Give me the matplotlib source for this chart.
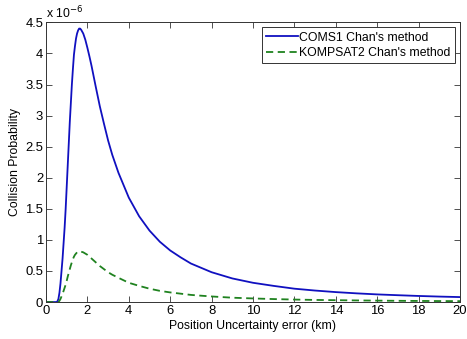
import matplotlib
matplotlib.use("Agg")
import matplotlib.pyplot as plt
from matplotlib.ticker import FuncFormatter

plt.rcParams['font.family'] = ['Liberation Sans', 'DejaVu Sans']

# Position uncertainty (km) and collision probability (x 1e-6)
x_km = [0, 0.3, 0.5, 0.55, 0.6, 0.65, 0.7, 0.75, 0.8, 0.85, 0.9, 0.95, 1.0,
        1.05, 1.1, 1.15, 1.2, 1.25, 1.3, 1.35, 1.4, 1.45, 1.5, 1.55, 1.6,
        1.65, 1.7, 1.8, 1.9, 2.0, 2.1, 2.2, 2.4, 2.6, 2.8, 3.0, 3.2, 3.5,
        4.0, 4.5, 5.0, 5.5, 6.0, 6.5, 7.0, 7.5, 8.0, 9.0, 10, 11, 12, 13,
        14, 15, 16, 17, 18, 19, 20]

p_coms1 = [0, 0, 0.0, 0.01, 0.05, 0.15, 0.3, 0.5, 0.7, 0.95, 1.2, 1.5, 1.85,
           2.2, 2.55, 2.9, 3.2, 3.5, 3.75, 3.98, 4.12, 4.24, 4.32, 4.37, 4.4,
           4.4, 4.38, 4.32, 4.22, 4.09, 3.95, 3.8, 3.47, 3.15, 2.87, 2.6, 2.37, 2.08,
           1.68, 1.38, 1.15, 0.97, 0.83, 0.72, 0.62, 0.55, 0.48, 0.38, 0.31, 0.26, 0.215, 0.185,
           0.16, 0.14, 0.123, 0.11, 0.098, 0.088, 0.08]

p_kompsat2 = [0, 0, 0, 0, 0.0, 0.02, 0.05, 0.09, 0.13, 0.18, 0.23, 0.28, 0.34,
              0.41, 0.47, 0.53, 0.59, 0.64, 0.69, 0.73, 0.76, 0.78, 0.80, 0.81, 0.815,
              0.815, 0.81, 0.80, 0.78, 0.76, 0.73, 0.70, 0.64, 0.58, 0.53, 0.48, 0.44, 0.39,
              0.31, 0.26, 0.215, 0.18, 0.155, 0.135, 0.115, 0.102, 0.09, 0.07, 0.058, 0.048, 0.04, 0.034,
              0.03, 0.026, 0.023, 0.02, 0.018, 0.016, 0.015]

x_ticks = list(range(0, 21, 2))
y_ticks = [0, 0.5, 1, 1.5, 2, 2.5, 3, 3.5, 4, 4.5]

fs = 8.8

fig = plt.figure(figsize=(4.67, 3.39), dpi=100)
ax = fig.add_axes([0.0985, 0.109, 0.8865, 0.825])

ax.plot(x_km, p_coms1, color='#1010c0', lw=1.3, label="COMS1 Chan's method")
ax.plot(x_km, p_kompsat2, color='#1f821f', lw=1.3, ls=(0, (4, 2.5)),
        label="KOMPSAT2 Chan's method")

ax.set_xlim(0, 20)
ax.set_ylim(0, 4.5)
ax.set_xticks(x_ticks)
ax.set_yticks(y_ticks)
ax.yaxis.set_major_formatter(FuncFormatter(lambda v, p: '%g' % v))
ax.tick_params(direction='in', top=True, right=True, labelsize=fs + 0.6,
               length=4, width=0.6, colors='#333333', labelcolor='black', pad=2)
for s in ax.spines.values():
    s.set_color('#333333')
    s.set_linewidth(0.7)

ax.text(0.0, 1.003, r'x 10$^{-6}$', transform=ax.transAxes, fontsize=fs,
        ha='left', va='bottom')

ax.set_xlabel('Position Uncertainty error (km)', fontsize=fs, labelpad=2)
ax.set_ylabel('Collision Probability', fontsize=fs, labelpad=3)

leg = ax.legend(loc='upper right', fontsize=fs, fancybox=False, framealpha=1,
                edgecolor='#333333', handlelength=2.6, handletextpad=0.15,
                borderpad=0.35, labelspacing=0.3, borderaxespad=0.4)
leg.get_frame().set_linewidth(0.7)

fig.savefig('out.png', dpi=100)
